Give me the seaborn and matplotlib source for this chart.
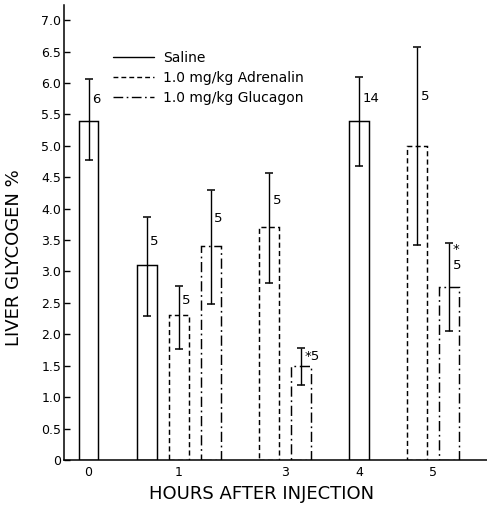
import numpy as np
import pandas as pd
import matplotlib
matplotlib.use("Agg")
import matplotlib.pyplot as plt
from matplotlib.lines import Line2D
import seaborn as sns

# ---- data ----
hours = ["0", "1", "1", "1", "3", "3", "4", "5", "5"]
treatments = ["Saline", "Saline", "Adrenalin", "Glucagon", "Adrenalin",
              "Glucagon", "Saline", "Adrenalin", "Glucagon"]
glycogen = [5.4, 3.1, 2.3, 3.4, 3.7, 1.5, 5.4, 5.0, 2.75]
err_low = [4.78, 2.29, 1.77, 2.48, 2.82, 1.19, 4.68, 3.42, 2.05]
err_high = [6.07, 3.86, 2.77, 4.29, 4.57, 1.79, 6.09, 6.57, 3.45]
n_animals = [6, 5, 5, 5, 5, 5, 14, 5, 5]
star_mark = ["", "", "", "", "", "inline", "", "", "above"]
legend_labels = ["Saline", "1.0 mg/kg Adrenalin", "1.0 mg/kg Glucagon"]
treatment_order = ["Saline", "Adrenalin", "Glucagon"]
ytick_values = [0, 0.5, 1.0, 1.5, 2.0, 2.5, 3.0, 3.5, 4.0, 4.5, 5.0, 5.5, 6.0, 6.5, 7.0]

# ---- layout (style) ----
STEP = 1.0        # spacing of bars inside a group
GAP = 1.81        # spacing between groups
linestyles = {"Saline": "-",
              "Adrenalin": (0, (3.5, 2.2)),
              "Glucagon": (0, (7, 2.5, 1.2, 2.5))}

# bar positions computed from the group structure
pos = []
cur = 0.0
for i, h in enumerate(hours):
    if i > 0:
        cur += STEP if h == hours[i - 1] else GAP
    pos.append(cur)

df = pd.DataFrame({"hour": hours, "treatment": treatments, "pos": pos,
                   "glycogen": glycogen, "lo": err_low, "hi": err_high,
                   "n": n_animals, "star": star_mark})

sns.set_style("ticks")
plt.rcParams["font.family"] = ["DejaVu Sans"]
for k in ("text.color", "axes.labelcolor", "xtick.color", "ytick.color",
          "axes.edgecolor"):
    plt.rcParams[k] = "black"

fig = plt.figure(figsize=(4.87, 5.08), dpi=100)
ax = fig.add_axes([64 / 487, 48 / 508, 423 / 487, 455 / 508])

sns.barplot(data=df, x="pos", y="glycogen", hue="treatment",
            hue_order=treatment_order, native_scale=True, dodge=False,
            palette={t: "white" for t in treatment_order},
            edgecolor="black", linewidth=1.05, width=0.62,
            errorbar=None, legend=False, ax=ax)

# line style for each bar according to its treatment
for p in ax.patches:
    cx = p.get_x() + p.get_width() / 2
    j = int(np.argmin(np.abs(df["pos"].values - cx)))
    p.set_linestyle(linestyles[df["treatment"].iloc[j]])
    p.set_facecolor("white")
    p.set_edgecolor("black")

# range bars
ax.errorbar(df["pos"], df["glycogen"],
            yerr=[df["glycogen"] - df["lo"], df["hi"] - df["glycogen"]],
            fmt="none", ecolor="black", elinewidth=1.0, capsize=2.7,
            capthick=1.1, zorder=3)

# n labels
for _, r in df.iterrows():
    ymid = (r["glycogen"] + r["hi"]) / 2
    txt = ("*" if r["star"] == "inline" else "") + str(r["n"])
    ax.annotate(txt, (r["pos"], ymid), xytext=(2.5, 0),
                textcoords="offset points", ha="left", va="center",
                fontsize=9.5, color="black")
    if r["star"] == "above":
        ax.annotate("*", (r["pos"], ymid), xytext=(2.5, 11),
                    textcoords="offset points", ha="left", va="center",
                    fontsize=9.5, color="black")

# axes
ax.set_xlim(-0.763, 12.41)
ax.set_ylim(0, 7.24)
group_centers = df.groupby("hour", sort=False)["pos"].mean()
ax.set_xticks(group_centers.values)
ax.set_xticklabels(group_centers.index)
ax.set_yticks(ytick_values)
ax.set_yticklabels(["0" if v == 0 else f"{v:.1f}" for v in ytick_values])
ax.tick_params(axis="y", direction="in", length=4, width=1.0, pad=2,
               labelsize=9, colors="black")
ax.tick_params(axis="x", length=0, pad=4, labelsize=9, colors="black")
sns.despine(ax=ax)
for s in ("left", "bottom"):
    ax.spines[s].set_linewidth(1.1)
    ax.spines[s].set_color("black")

ax.set_xlabel("HOURS AFTER INJECTION", fontsize=13, color="black")
ax.set_ylabel("LIVER GLYCOGEN %", fontsize=13, color="black")
ax.xaxis.set_label_coords(0.466, -0.054)
ax.yaxis.set_label_coords(-0.097, 0.444)

# legend with line samples
handles = [Line2D([0], [0], color="black", lw=1.0, linestyle=linestyles[t])
           for t in treatment_order]
leg = ax.legend(handles, legend_labels, loc="upper left",
                bbox_to_anchor=(0.1, 0.915), frameon=False, fontsize=10,
                handlelength=2.95, handletextpad=0.65, labelspacing=0.45,
                borderpad=0)
for t in leg.get_texts():
    t.set_color("black")

fig.savefig("out.png", dpi=100)
